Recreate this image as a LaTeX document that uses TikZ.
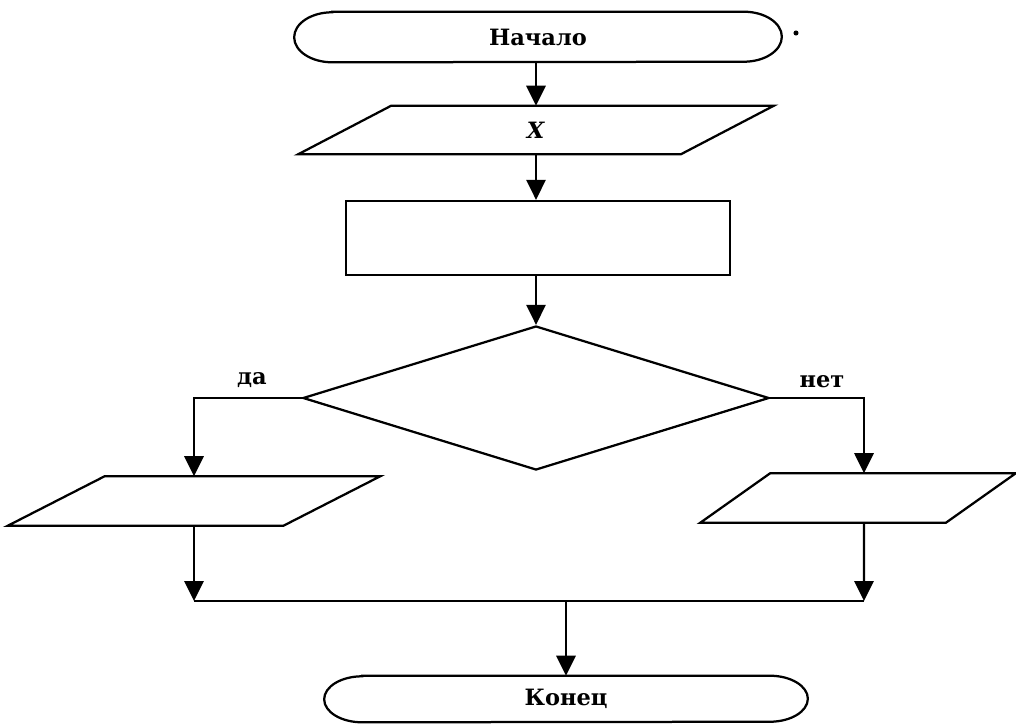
\documentclass[tikz,border=0pt]{standalone}
\usepackage{fontspec}
\setmainfont{DejaVu Serif}
\usetikzlibrary{positioning,arrows.meta,shapes.geometric}

% slanted outline round an io node: #1 node name, #2 half of the slant
\newcommand{\ioframe}[2]{%
  \draw[line]
    ([xshift=#2]#1.north west) -- ([xshift=#2]#1.north east) --
    ([xshift=-#2]#1.south east) -- ([xshift=-#2]#1.south west) -- cycle;}

% oval ends round a terminal node: #1 node name, #2 x radius, #3 y radius
\newcommand{\termframe}[3]{%
  \draw[line]
    (#1.north west) -- (#1.north east)
    arc[start angle=90, end angle=-90, x radius=#2, y radius=#3]
    -- (#1.south west)
    arc[start angle=270, end angle=90, x radius=#2, y radius=#3]
    -- cycle;}

\begin{document}
\begin{tikzpicture}[
  x=0.025cm,
  y=-0.025cm,
  every node/.style={
    font=\bfseries\fontsize{16}{19}\selectfont,
    inner sep=0pt
  },
  term/.style={
    rectangle
  },
  io/.style={
    rectangle
  },
  proc/.style={
    draw,
    rectangle,
    line width=1.6pt
  },
  cond/.style={
    draw,
    diamond,
    line width=1.6pt
  },
  arr/.style={
    -{Triangle[length=5mm,width=4.8mm]},
    line width=1.6pt
  },
  line/.style={
    line width=1.6pt
  }
]

\useasboundingbox (0,0) rectangle (1016,724);

\node[
  term,
  minimum width=10.275cm,
  minimum height=1.25cm
] (s) at (538,37)
{Начало};
\termframe{s}{.95cm}{.625cm}

\fill (796,33) circle[radius=1.8pt];

\node[
  io,
  minimum width=9.55cm,
  minimum height=1.2cm
] (in) at (536,130)
{\textit{X}};
\ioframe{in}{1.1625cm}

\node[
  proc,
  minimum width=9.6cm,
  minimum height=1.85cm
] (p) at (538,238)
{};

\node[
  cond,
  minimum width=11.65cm,
  minimum height=3.6cm
] (c) at (536,398)
{};

\node[
  io,
  minimum width=6.875cm,
  minimum height=1.225cm
] (yes) at (194,501)
{};
\ioframe{yes}{1.2125cm}

\node[
  io,
  minimum width=6.125cm,
  minimum height=1.225cm
] (no) at (858,498)
{};
\ioframe{no}{.875cm}

\node (lyes) at (252,380) {да};
\node (lno) at (822,382) {нет};

\node[
  term,
  minimum width=10.175cm,
  minimum height=1.15cm
] (e) at (566,699)
{Конец};
\termframe{e}{.95cm}{.575cm}

\coordinate (jl) at (194,601);
\coordinate (jr) at (864,601);
\coordinate (jm) at (566,601);

\draw[arr] (s.south -| in) -- (in);
\draw[arr] (in) -- (p.north -| in);
\draw[arr] (p.south -| c) -- (c);

\draw[arr] (c.west) -| (yes.north);
\draw[arr] (c.east) -| ([xshift=.15cm]no.north);

\draw[arr] (yes.south) -- (jl);
\draw[arr] ([xshift=.15cm]no.south) -- (jr);
\draw[line] (jl) -- (jr);
\draw[arr] (jm) -- (e);

\end{tikzpicture}
\end{document}
